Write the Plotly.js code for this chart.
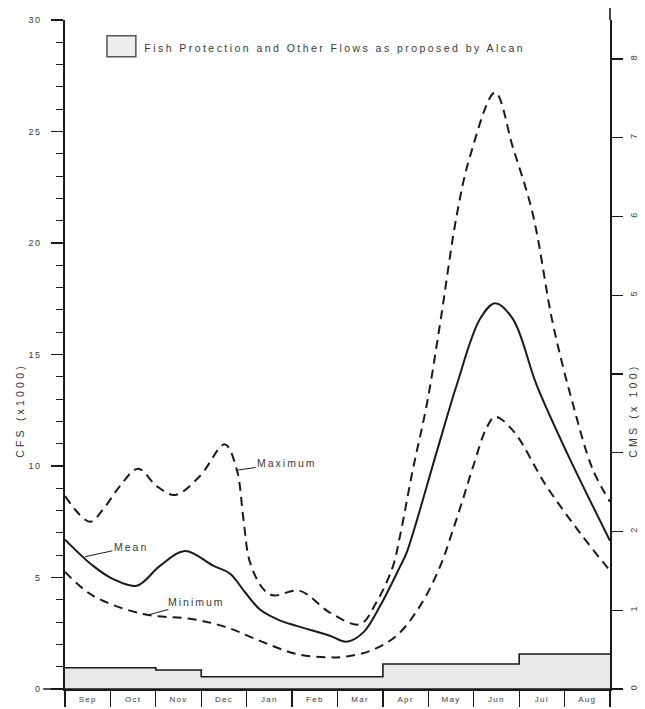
<!DOCTYPE html>
<html>
<head>
<meta charset="utf-8">
<script src="https://cdn.plot.ly/plotly-3.0.1.min.js"></script>
<style>
  html, body { margin: 0; padding: 0; background: #fff; }
  #chart { width: 645px; height: 709px; }
  .annotation-text { letter-spacing: 2px; }
  .xtick text { letter-spacing: 1.3px; }
  .ytick text { letter-spacing: 1.5px; }
</style>
</head>
<body>
<div id="chart"></div>
<script>
// Month categories (x position 0..12 = start of Sep .. end of Aug)
const months = ["Sep", "Oct", "Nov", "Dec", "Jan", "Feb", "Mar", "Apr", "May", "Jun", "Jul", "Aug"];
const monthCenters = [0.5, 1.5, 2.5, 3.5, 4.5, 5.5, 6.5, 7.5, 8.5, 9.5, 10.5, 11.5];
const monthEdges = [0, 1, 2, 3, 4, 5, 6, 7, 8, 9, 10, 11, 12];

// Fish protection and other flows (CFS x1000), one value per month (last repeated for the step end)
const fishFlow = [0.95, 0.95, 0.85, 0.55, 0.55, 0.55, 0.55, 1.12, 1.12, 1.12, 1.57, 1.57, 1.57];

// Maximum flow (CFS x1000)
const maxX = [0, 0.55, 0.84, 1.21, 1.61, 2.02, 2.42, 2.97, 3.52, 3.78, 3.93, 4.07, 4.36, 4.58, 5.17, 5.83, 6.49, 6.86, 7.22, 7.38, 7.66, 7.97, 8.26, 8.63, 8.92, 9.47, 9.86, 10.30, 10.74, 11.18, 11.62, 12.0];
const maxY = [8.65, 7.5, 8.06, 9.1, 9.88, 9.1, 8.7, 9.55, 10.97, 9.85, 7.6, 5.7, 4.5, 4.2, 4.4, 3.43, 2.9, 3.9, 5.5, 6.9, 9.85, 12.8, 16.4, 21.3, 23.9, 26.75, 24.3, 21.3, 16.4, 12.8, 9.85, 8.4];

// Mean flow (CFS x1000)
const meanX = [0, 0.62, 1.06, 1.58, 2.09, 2.64, 3.27, 3.63, 3.96, 4.3, 4.7, 5.10, 5.83, 6.2, 6.57, 6.94, 7.38, 7.52, 8.18, 8.62, 9.14, 9.47, 9.86, 10.39, 11.05, 12];
const meanY = [6.7, 5.52, 4.93, 4.63, 5.52, 6.19, 5.52, 5.18, 4.35, 3.55, 3.1, 2.83, 2.39, 2.12, 2.54, 3.73, 5.5, 6.1, 10.6, 13.6, 16.6, 17.3, 16.6, 13.6, 10.6, 6.65];

// Minimum flow (CFS x1000)
const minX = [0, 0.62, 1.72, 2.82, 3.57, 4.29, 5.10, 5.83, 6.2, 6.72, 7.30, 7.82, 8.26, 8.52, 8.76, 8.99, 9.28, 9.47, 9.86, 10.6, 11.34, 12];
const minY = [5.25, 4.18, 3.36, 3.13, 2.76, 2.16, 1.57, 1.42, 1.46, 1.71, 2.39, 3.73, 5.5, 7.0, 8.5, 10.0, 11.7, 12.2, 11.6, 9.1, 7.0, 5.3];

// Axis ticks
const cfsTicks = [0, 5, 10, 15, 20, 25, 30];
const cmsTicks = [0, 1, 2, 3, 4, 5, 6, 7, 8];
const cmsTickText = ["0", "1", "2", "", "", "5", "6", "7", "8"];
const CFS_PER_CMS100 = 3.531; // 100 m3/s = 3531 ft3/s

const ink = "#1a1a1a";
const textGray = "#3a3a3a";
const dash = "9px,6px";
const smooth = 1.0;

const traces = [
  {
    x: monthEdges, y: fishFlow, type: "scatter", mode: "lines",
    line: { shape: "hv", color: ink, width: 1.6 },
    fill: "tozeroy", fillcolor: "#e8e8e8", hoverinfo: "skip"
  },
  {
    x: maxX, y: maxY, type: "scatter", mode: "lines",
    line: { shape: "spline", smoothing: smooth, color: ink, width: 2, dash: dash }
  },
  {
    x: meanX, y: meanY, type: "scatter", mode: "lines",
    line: { shape: "spline", smoothing: smooth, color: ink, width: 2 }
  },
  {
    x: minX, y: minY, type: "scatter", mode: "lines",
    line: { shape: "spline", smoothing: smooth, color: ink, width: 2, dash: dash }
  },
  // invisible copy of the mean in CMS (x100) so the right-hand axis is drawn
  {
    x: meanX, y: meanY.map(v => v / CFS_PER_CMS100), type: "scatter", mode: "lines",
    yaxis: "y2", line: { color: "rgba(0,0,0,0)", width: 0 }, hoverinfo: "skip"
  }
];

const annFont = { family: "Liberation Sans, Arial, sans-serif", size: 10.5, color: textGray };

const layout = {
  width: 645, height: 709,
  margin: { l: 65, r: 35, t: 20, b: 20 },
  paper_bgcolor: "#ffffff", plot_bgcolor: "#ffffff",
  showlegend: false,
  xaxis: {
    range: [0, 12], fixedrange: true,
    tickmode: "array", tickvals: monthCenters, ticktext: months,
    ticks: "", ticklabelstandoff: 2,
    tickfont: { family: "Liberation Sans, Arial, sans-serif", size: 8, color: textGray },
    showline: true, linecolor: ink, linewidth: 1.6,
    showgrid: false, zeroline: false,
    minor: { tickmode: "linear", tick0: 0, dtick: 1, ticks: "outside", ticklen: 16, tickwidth: 1.2, tickcolor: ink, showgrid: false }
  },
  yaxis: {
    range: [0, 30], fixedrange: true,
    tickmode: "array", tickvals: cfsTicks,
    ticks: "outside", ticklen: 12, tickwidth: 1.2, tickcolor: ink,
    ticklabelstandoff: 8,
    tickfont: { family: "Liberation Sans, Arial, sans-serif", size: 9, color: textGray },
    showline: true, linecolor: ink, linewidth: 1.6,
    showgrid: false, zeroline: false,
    minor: { tickmode: "linear", tick0: 0, dtick: 1, ticks: "outside", ticklen: 7, tickwidth: 1, tickcolor: ink, showgrid: false }
  },
  yaxis2: {
    overlaying: "y", side: "right",
    range: [0, 30 / CFS_PER_CMS100], fixedrange: true,
    tickmode: "array", tickvals: cmsTicks, ticktext: cmsTickText,
    ticks: "outside", ticklen: 11, tickwidth: 1.2, tickcolor: ink,
    tickangle: -90, ticklabelstandoff: 4,
    tickfont: { family: "Liberation Sans, Arial, sans-serif", size: 9, color: textGray },
    showline: true, linecolor: ink, linewidth: 1.6,
    showgrid: false, zeroline: false
  },
  shapes: [
    // legend swatch
    { type: "rect", xref: "paper", yref: "paper", x0: 0.077, x1: 0.130, y0: 0.945, y1: 0.9765,
      line: { color: "#555", width: 1.5 }, fillcolor: "#eeeeee" },
    // x axis line extension beyond the vertical axes
    { type: "line", xref: "paper", yref: "paper", x0: -0.04, x1: 1.02, y0: 0, y1: 0,
      line: { color: ink, width: 1.6 } },
    // right axis extends slightly above the plot
    { type: "line", xref: "paper", yref: "paper", x0: 1, x1: 1, y0: 1, y1: 1.018,
      line: { color: ink, width: 1.6 } }
  ],
  annotations: [
    { xref: "paper", yref: "paper", x: 0.163, y: 0.9586, xanchor: "left", yanchor: "middle",
      text: "Fish Protection and Other Flows as proposed by Alcan", showarrow: false, font: annFont },
    { xref: "x", yref: "y", x: 3.81, y: 9.82, text: "Maximum", showarrow: true,
      arrowhead: 0, arrowwidth: 1, arrowcolor: ink, ax: 49, ay: -7, standoff: 0, font: annFont },
    { xref: "x", yref: "y", x: 0.44, y: 5.93, text: "Mean", showarrow: true,
      arrowhead: 0, arrowwidth: 1, arrowcolor: ink, ax: 46, ay: -10, standoff: 0, font: annFont },
    { xref: "x", yref: "y", x: 1.83, y: 3.32, text: "Minimum", showarrow: true,
      arrowhead: 0, arrowwidth: 1, arrowcolor: ink, ax: 48, ay: -13, standoff: 0, font: annFont },
    { xref: "paper", yref: "y", x: -0.0826, y: 12.5, xanchor: "center", yanchor: "middle",
      text: "CFS (x1000)", textangle: -90,
      showarrow: false, font: { family: "Liberation Sans, Arial, sans-serif", size: 10.5, color: textGray } },
    { xref: "paper", yref: "y", x: 1.042, y: 12.5, xanchor: "center", yanchor: "middle",
      text: "CMS (x 100)", textangle: -90,
      showarrow: false, font: { family: "Liberation Sans, Arial, sans-serif", size: 10.5, color: textGray } }
  ]
};

Plotly.newPlot("chart", traces, layout, { displayModeBar: false, staticPlot: true }).then(function () {
  document.querySelectorAll("text.annotation-text").forEach(function (t) {
    if (/^(CFS|CMS)/.test(t.textContent)) t.style.letterSpacing = "3.2px";
    if (/^Fish/.test(t.textContent)) t.style.letterSpacing = "2.45px";
  });
});
</script>
</body>
</html>
